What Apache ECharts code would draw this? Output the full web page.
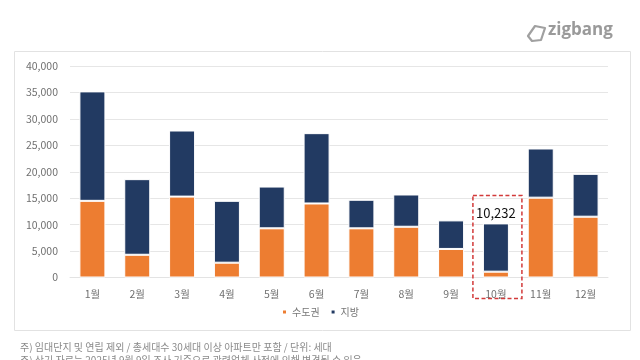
<!DOCTYPE html>
<html><head><meta charset="utf-8">
<script src="https://cdn.jsdelivr.net/npm/echarts@6/dist/echarts.min.js"></script>
<style>html,body{margin:0;padding:0;background:#fff;}#c{width:640px;height:360px;}</style>
</head><body><div id="c"></div>
<script>
const categories = ['1월','2월','3월','4월','5월','6월','7월','8월','9월','10월','11월','12월'];
const capital = [14500, 4300, 15300, 2800, 9300, 14000, 9300, 9600, 5400, 1100, 15100, 11500];
const regional = [20700, 14300, 12500, 11700, 7900, 13300, 5400, 6100, 5400, 9132, 9300, 8100];
const seriesNames = ['수도권', '지방'];
const highlightIndex = 9;
const highlightLabel = '10,232';
const yTicks = [0, 5000, 10000, 15000, 20000, 25000, 30000, 35000, 40000];
const notes = ['주) 임대단지 및 연립 제외 / 총세대수 30세대 이상 아파트만 포함 / 단위: 세대',
               '주) 상기 자료는 2025년 9월 9일 조사 기준으로 관련업체 사정에 의해 변경될 수 있음'];

const chart = echarts.init(document.getElementById('c'), null, {renderer:'canvas'});
const font = "'Noto Sans CJK KR','Noto Sans',sans-serif";
const regionalData = regional.map((v,i)=> i===highlightIndex ? {value:v, label:{show:true, position:'top', distance:4, formatter:highlightLabel, color:'#111', fontSize:13, fontFamily:font}} : v);

chart.setOption({
  animation:false,
  textStyle:{fontFamily:font},
  grid:{left:70, right:32, top:66, bottom:82.5},
  legend:{
    data:seriesNames, bottom:38, left:'center', itemWidth:5, itemHeight:5, itemGap:10,
    icon:'rect', textStyle:{color:'#777', fontSize:10, fontFamily:font}
  },
  xAxis:{
    type:'category', data:categories,
    axisLine:{lineStyle:{color:'#e3e3e3'}}, axisTick:{show:false},
    axisLabel:{color:'#707070', fontSize:10.5, margin:11}
  },
  yAxis:{
    type:'value', min:yTicks[0], max:yTicks[yTicks.length-1], interval:5000,
    axisLine:{show:false}, axisTick:{show:false},
    splitLine:{lineStyle:{color:'#e6e6e6'}},
    axisLabel:{color:'#707070', fontSize:10.5, margin:12, formatter:v=>v.toLocaleString('en-US')}
  },
  series:[
    {name:seriesNames[0], type:'bar', stack:'t', data:capital, barWidth:'58%',
     itemStyle:{color:'#ED7D31', borderColor:'#fff', borderWidth:1}},
    {name:seriesNames[1], type:'bar', stack:'t', data:regionalData, barWidth:'58%',
     itemStyle:{color:'#223A62', borderColor:'#fff', borderWidth:1}}
  ]
});

function drawExtras(){
  const cx = chart.convertToPixel({xAxisIndex:0}, categories[highlightIndex]);
  const total = capital[highlightIndex] + regional[highlightIndex];
  const yTop = chart.convertToPixel({yAxisIndex:0}, total);
  const y0 = chart.convertToPixel({yAxisIndex:0}, 0);
  const bw = 49;
  chart.setOption({graphic:[
    {type:'rect', left:12, top:49, shape:{width:616, height:279}, z:-10,
     style:{fill:'none', stroke:'#e2e2e2', lineWidth:1}},
    {type:'rect', shape:{x:cx-bw/2+1.5, y:yTop-28, width:bw, height:(y0+21)-(yTop-28)}, z:10,
     style:{fill:'none', stroke:'#d23a3a', lineWidth:1.5, lineDash:[4,2.5]}},
    {type:'text', left:20, top:342, style:{text:notes[0], fill:'#8a8a8a', fontSize:10, fontFamily:font}},
    {type:'text', left:20, top:355, style:{text:notes[1], fill:'#8a8a8a', fontSize:10, fontFamily:font}},
    {type:'text', left:548, top:22, style:{text:'zigbang', fill:'#9a9a9a', fontSize:17, fontWeight:'bold', fontFamily:"'Open Sans',sans-serif"}},
    {type:'polygon', shape:{points:[[528,36],[535,26],[545,28],[541,40],[532,41]]},
     style:{fill:'none', stroke:'#a0a0a0', lineWidth:2.2, lineJoin:'round'}}
  ]});
}
drawExtras();
</script></body></html>
